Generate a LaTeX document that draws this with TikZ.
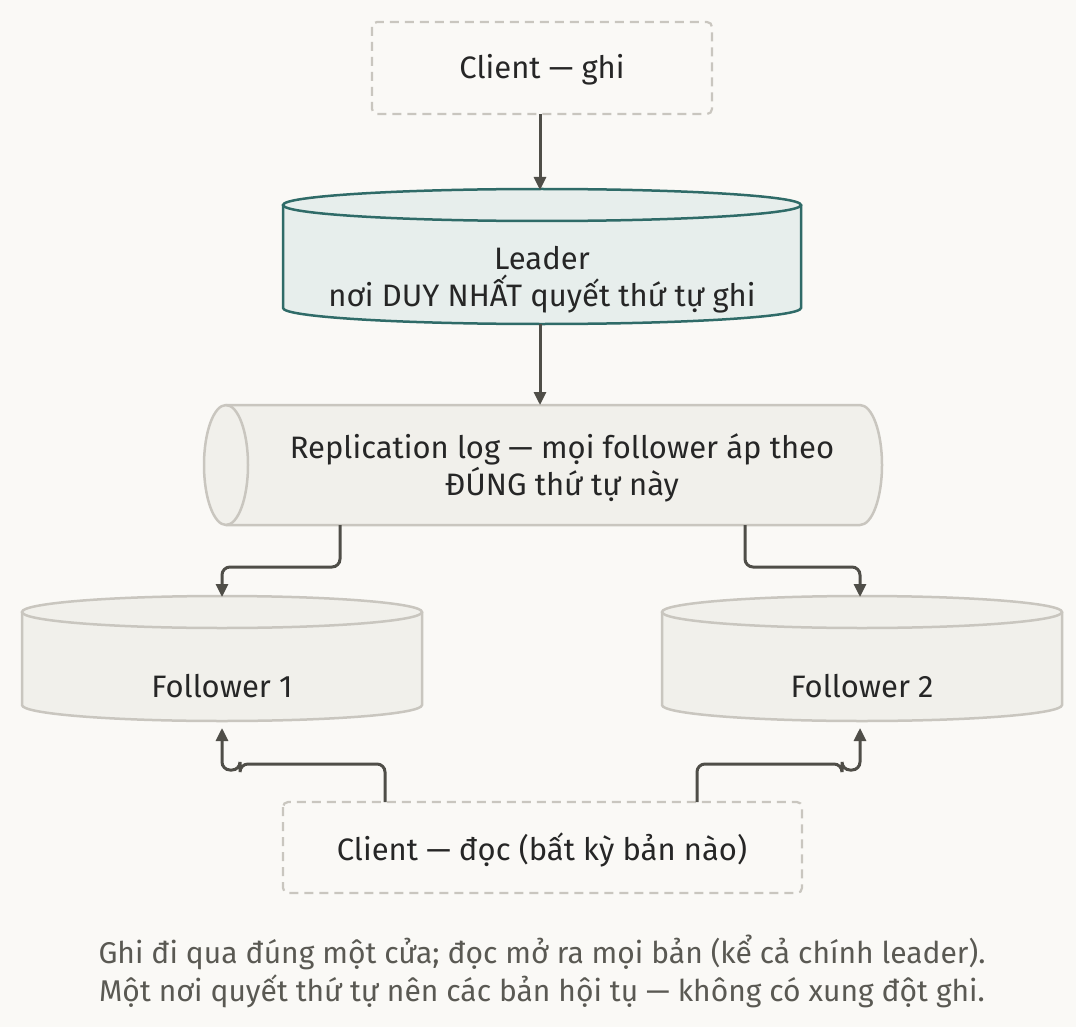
\documentclass[tikz,border=0pt]{standalone}
\usepackage{fontspec}
\setmainfont{Fira Sans}
\usetikzlibrary{arrows.meta}
\definecolor{bg}{HTML}{FAF9F6}
\definecolor{ln}{HTML}{4F4E48}
\definecolor{gb}{HTML}{C9C6BF}
\definecolor{gf}{HTML}{F1F0EB}
\definecolor{tb}{HTML}{2F6B68}
\definecolor{tf}{HTML}{E7EEEC}
\definecolor{cap}{HTML}{5A5953}
\begin{document}
\begin{tikzpicture}[x=1pt,y=-1pt,
  lbl/.style={font=\fontsize{31}{37}\selectfont,text=black!85,align=center},
  arr/.style={draw=ln,line width=3pt,-{Triangle[length=13pt,width=12pt]},rounded corners=8pt},
  dbox/.style={draw=gb,dashed,dash pattern=on 9pt off 6pt,line width=2.2pt,rounded corners=5pt}]
\fill[bg] (0,0) rectangle (1076,1027);
\useasboundingbox (0,0) rectangle (1076,1027);
% client write
\draw[dbox] (372,22) rectangle (712,114);
\node[lbl] (cw) at (542,70) {Client — ghi};
\coordinate (cwb) at (540,114);
% leader
\draw[fill=tf,draw=tb,line width=2.5pt] (283,205) -- (283,308) arc[start angle=180,end angle=0,x radius=259,y radius=16] -- (801,205);
\draw[fill=tf,draw=tb,line width=2.5pt] (542,205) ellipse[x radius=259,y radius=16];
\node[lbl] (ld) at (542,280) {Leader\\nơi DUY NHẤT quyết thứ tự ghi};
\coordinate (ldt) at (540,190);
\coordinate (ldb) at (540,324);
\draw[arr] (cwb) -- (ldt);
% replication log
\draw[fill=gf,draw=gb,line width=2.5pt] (226,405) -- (860,405) arc[start angle=270,end angle=450,x radius=22,y radius=60] -- (226,525) arc[start angle=90,end angle=270,x radius=22,y radius=60]--cycle;
\draw[draw=gb,line width=2.5pt] (226,405) arc[start angle=-90,end angle=90,x radius=22,y radius=60];
\node[lbl] (rl) at (562,468) {Replication log — mọi follower áp theo\\ĐÚNG thứ tự này};
\coordinate (rlt) at (540,405);
\draw[arr] (ldb) -- (rlt);
% followers
\foreach \n/\cx/\t in {f1/222/Follower 1,f2/862/Follower 2}{
\draw[fill=gf,draw=gb,line width=2.5pt] (\cx-200,612) -- (\cx-200,705) arc[start angle=180,end angle=0,x radius=200,y radius=16] -- (\cx+200,612);
\draw[fill=gf,draw=gb,line width=2.5pt] (\cx,612) ellipse[x radius=200,y radius=16];
\node[lbl] (\n) at (\cx,686) {\t};
}
\coordinate (rl1) at (340,525);\coordinate (rl2) at (745,525);
\coordinate (f1t) at (222,597);\coordinate (f2t) at (860,597);
\draw[arr] (rl1) -- (340,567) -- (222,567) -- (f1t);
\draw[arr] (rl2) -- (745,567) -- (860,567) -- (f2t);
% client read
\draw[dbox] (283,802) rectangle (802,893);
\node[lbl] (cr) at (542,850) {Client — đọc (bất kỳ bản nào)};
\coordinate (cr1) at (385,802);\coordinate (cr2) at (697,802);
\coordinate (f1b) at (222,728);\coordinate (f2b) at (860,728);
\draw[arr] (cr1) -- (385,764) -- (240,764) -- (240,770) -- (222,770) -- (f1b);
\draw[arr] (cr2) -- (697,764) -- (842,764) -- (842,770) -- (860,770) -- (f2b);
\node[font=\fontsize{30}{38}\selectfont,text=cap,align=center] (capt) at (542,971) {Ghi đi qua đúng một cửa; đọc mở ra mọi bản (kể cả chính leader).\\Một nơi quyết thứ tự nên các bản hội tụ — không có xung đột ghi.};
\end{tikzpicture}
\end{document}
